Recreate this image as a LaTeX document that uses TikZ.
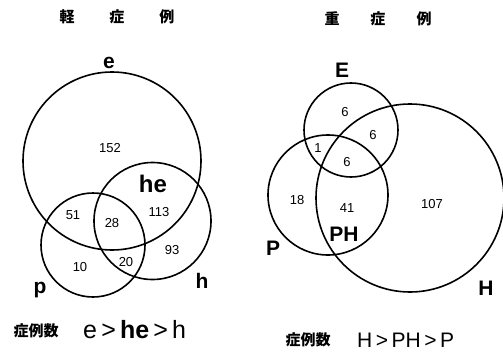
\documentclass[tikz,border=0pt]{standalone}
\usepackage{fontspec}
\setmainfont{Liberation Sans}
\newfontfamily\jpfont{Noto Sans CJK JP}
\usepackage{tikz}
\usetikzlibrary{positioning}

\tikzset{
  venn/.style={draw, circle, line width=1.6pt, inner sep=0pt},
  num/.style={font=\fontsize{13}{13}\selectfont, inner sep=0pt},
  setname/.style={font=\bfseries\fontsize{21}{21}\selectfont, inner sep=0pt},
  title/.style={font=\jpfont\bfseries\fontsize{15}{15}\selectfont, inner sep=0pt},
  footer/.style={font=\jpfont\bfseries\fontsize{15}{15}\selectfont, inner sep=0pt},
  order/.style={font=\fontsize{25}{25}\selectfont, inner sep=0pt}
}

\begin{document}
\begin{tikzpicture}[x=1pt, y=-1pt]
    \useasboundingbox (0,0) rectangle (503,353);

    % light cases (left)
    \node[title] (tl) at (117,17) {軽\hspace{35pt}症\hspace{35pt}例};
    \node[venn, minimum size=178] (e) at (112,161) {};
    \node[venn, minimum size=117] (h) at (152.5,221) {};
    \node[venn, minimum size=104] (p) at (93,245) {};
    \node[setname] (le) at (109,63) {e};
    \node[setname] (lh) at (202,281) {h};
    \node[setname] (lp) at (40,290) {p};
    \node[setname, font=\bfseries\fontsize{24}{24}\selectfont] (lhe) at (153,184) {he};
    \node[num] (n152) at (110,148) {152};
    \node[num] (n51)  at (73,215) {51};
    \node[num] (n28)  at (112,223) {28};
    \node[num] (n113) at (159,212) {113};
    \node[num] (n93)  at (172,250) {93};
    \node[num] (n10)  at (80,267) {10};
    \node[num] (n20)  at (126,262) {20};
    \node[footer] (fl) at (36,331) {症例数};
    \node[order, anchor=west] (ol) at (83,330) {e\,>\,\textbf{he}\,>\,h};

    % severe cases (right)
    \node[title] (tr) at (378,19) {重\hspace{31pt}症\hspace{31pt}例};
    \node[venn, minimum size=94]  (E) at (351,130) {};
    \node[venn, minimum size=120] (P) at (328,195) {};
    \node[venn, minimum size=188] (H) at (410,198) {};
    \node[setname] (rE) at (342,70) {E};
    \node[setname] (rP) at (273,248) {P};
    \node[setname] (rH) at (486,288) {H};
    \node[setname] (rPH) at (344,234) {PH};
    \node[num] (m6a) at (345,112) {6};
    \node[num] (m6b) at (373,135) {6};
    \node[num] (m1)  at (318,148) {1};
    \node[num] (m6c) at (347,162) {6};
    \node[num] (m18) at (297,200) {18};
    \node[num] (m41) at (347,208) {41};
    \node[num] (m107) at (432,204) {107};
    \node[footer] (fr) at (308,340) {症例数};
    \node[order, font=\fontsize{21}{21}\selectfont, anchor=west] (or) at (357,340) {H\,>\,PH\,>\,P};
\end{tikzpicture}
\end{document}
